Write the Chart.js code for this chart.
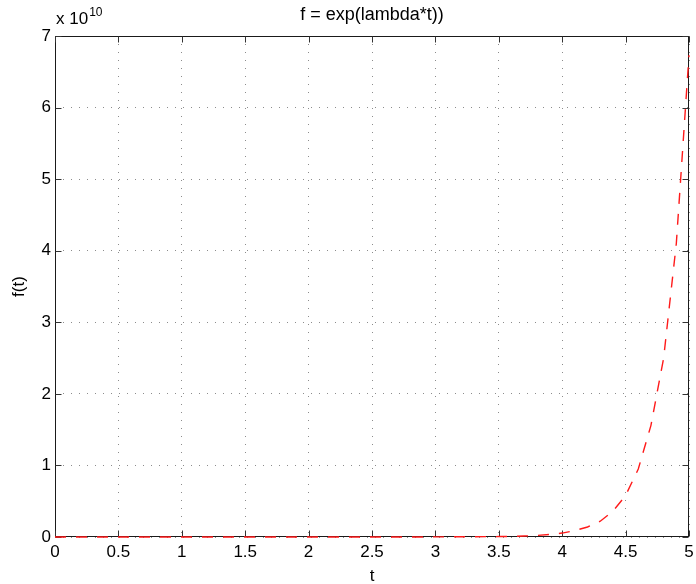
<!DOCTYPE html>
<html>
<head>
<meta charset="utf-8">
<script src="https://cdn.jsdelivr.net/npm/chart.js@4/dist/chart.umd.min.js"></script>
<style>
html,body{margin:0;padding:0;background:#fff;}
#wrap{width:696px;height:584px;position:relative;}
</style>
</head>
<body>
<div id="wrap"><canvas id="c" width="696" height="584"></canvas></div>
<script>
// Data
const tValues = [0,0.1,0.2,0.3,0.4,0.5,0.6,0.7,0.8,0.9,1.0,1.1,1.2,1.3,1.4,1.5,1.6,1.7,1.8,1.9,2.0,
  2.1,2.2,2.3,2.4,2.5,2.6,2.7,2.8,2.9,3.0,3.1,3.2,3.3,3.4,3.5,3.6,3.7,3.8,3.9,4.0,
  4.1,4.2,4.3,4.4,4.5,4.6,4.7,4.8,4.9,5.0];
const fValues = [0,0,0,0,0,0,0,0,0,0,0,0,0,0,0,0,0,0,0,0,0,
  0,0,0,0,0.0001e10,0.0002e10,0.0003e10,0.0005e10,0.0008e10,0.0013e10,0.002e10,0.003e10,0.004e10,0.005e10,0.006e10,0.009e10,0.014e10,0.022e10,0.035e10,0.055e10,
  0.09e10,0.14e10,0.22e10,0.36e10,0.58e10,0.95e10,1.56e10,2.5e10,4.1e10,6.73e10];
const xTicks = [0,0.5,1,1.5,2,2.5,3,3.5,4,4.5,5];
const yTicks = [0,1,2,3,4,5,6,7];
const titleText = 'f = exp(lambda*t))';
const xLabel = 't';
const yLabel = 'f(t)';
const exponentText = '10';

const FONT = '"Liberation Sans", Arial, Helvetica, sans-serif';

const points = tValues.map((t,i)=>({x:t,y:fValues[i]}));

const decor = {
  id:'decor',
  afterLayout(chart){
    // pin the plot box to the reference position
    const a = chart.chartArea;
    a.left = 55; a.right = 689; a.top = 36; a.bottom = 537;
    a.width = a.right - a.left; a.height = a.bottom - a.top;
    ['x','y'].forEach(id=>{
      const s = chart.scales[id];
      if (id==='x'){ s.left = 55; s.right = 689; s.width = 634; s.top = 537; s.bottom = 584; }
      else { s.top = 36; s.bottom = 537; s.height = 501; s.left = 0; s.right = 55; }
      s.configure();
    });
  },
  beforeDatasetsDraw(chart){
    const ctx = chart.ctx;
    const a = chart.chartArea;
    const xs = chart.scales.x, ys = chart.scales.y;
    ctx.save();
    ctx.strokeStyle = '#1a1a1a';
    ctx.lineWidth = 1;
    ctx.setLineDash([]);
    const L = Math.round(a.left)+0.5, R = Math.round(a.right)-0.5, T = Math.round(a.top)+0.5, B = Math.round(a.bottom)-0.5;
    ctx.strokeRect(L, T, R-L, B-T);
    ctx.strokeStyle = '#333';
    const tl = 6;
    ctx.beginPath();
    xTicks.forEach(v=>{
      const px = Math.round(xs.getPixelForValue(v))+0.5;
      ctx.moveTo(px,B); ctx.lineTo(px,B-tl);
      ctx.moveTo(px,T); ctx.lineTo(px,T+tl);
    });
    yTicks.forEach(v=>{
      const py = Math.round(ys.getPixelForValue(v*1e10))+0.5;
      ctx.moveTo(L,py); ctx.lineTo(L+tl,py);
      ctx.moveTo(R,py); ctx.lineTo(R-tl,py);
    });
    ctx.stroke();
    ctx.restore();
  },
  afterDraw(chart){
    const ctx = chart.ctx;
    const a = chart.chartArea;
    ctx.save();
    ctx.fillStyle = '#000';
    ctx.textAlign = 'center';
    ctx.textBaseline = 'alphabetic';
    ctx.font = '18px ' + FONT;
    ctx.fillText(titleText, (a.left+a.right)/2, 20);
    ctx.font = '17px ' + FONT;
    ctx.fillText(xLabel, (a.left+a.right)/2, 581);
    ctx.save();
    ctx.translate(24, (a.top+a.bottom)/2);
    ctx.rotate(-Math.PI/2);
    ctx.fillText(yLabel, 0, 0);
    ctx.restore();
    ctx.textAlign = 'left';
    ctx.font = '17px ' + FONT;
    ctx.fillText('x 10', 56, 24);
    const w = ctx.measureText('x 10').width;
    ctx.font = '12px ' + FONT;
    ctx.fillText(exponentText, 56 + w + 1, 16);
    ctx.restore();
  }
};

new Chart(document.getElementById('c'), {
  type: 'line',
  data: {
    datasets: [{
      data: points,
      borderColor: '#ff1a1a',
      borderWidth: 1.4,
      borderDash: [11, 10],
      pointRadius: 0,
      fill: false,
      tension: 0,
      clip: 3
    }]
  },
  options: {
    responsive: false,
    animation: false,
    events: [],
    layout: { padding: { top: 36, right: 7, left: 0, bottom: 0 } },
    plugins: { legend: { display: false }, title: { display: false }, tooltip: { enabled: false } },
    scales: {
      x: {
        type: 'linear', min: 0, max: 5,
        afterBuildTicks(s){ s.ticks = xTicks.map(v=>({value:v})); },
        afterFit(s){ s.height = 47; },
        grid: { color: '#8c8c8c', lineWidth: 1, drawTicks: false },
        border: { display: false, dash: [1, 7] },
        ticks: { padding: 5, color: '#000', font: { family: FONT, size: 17 }, maxRotation: 0,
          callback: v => String(v) }
      },
      y: {
        type: 'linear', min: 0, max: 7e10,
        afterBuildTicks(s){ s.ticks = yTicks.map(v=>({value:v*1e10})); },
        afterFit(s){ s.width = 55; },
        grid: { color: '#8c8c8c', lineWidth: 1, drawTicks: false },
        border: { display: false, dash: [1, 7] },
        ticks: { padding: 4, color: '#000', font: { family: FONT, size: 17 },
          callback: v => String(Math.round(v/1e10)) }
      }
    }
  },
  plugins: [decor]
});
</script>
</body>
</html>
